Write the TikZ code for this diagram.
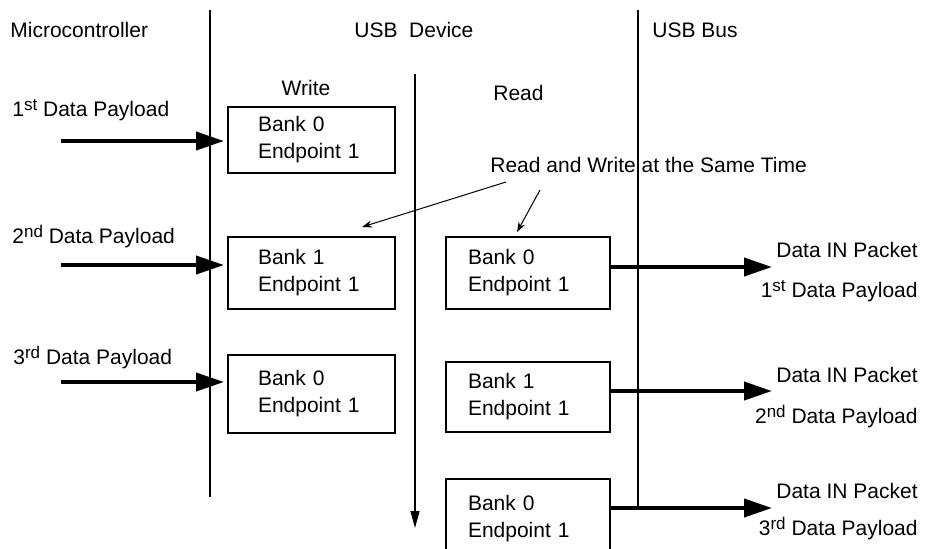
\documentclass[tikz,border=0pt]{standalone}
\usepackage{fontspec}
\setmainfont{Liberation Sans}
\usetikzlibrary{arrows.meta}

\newcommand{\ordsup}[1]{\raisebox{3pt}{\fontsize{8.5}{8.5}\selectfont #1}}

\begin{document}
\begin{tikzpicture}[x=0.5pt,y=-0.5pt,
    font=\fontsize{10.5}{13.5}\selectfont,
    lbl/.style={inner sep=0pt},
    bank/.style={draw,line width=1pt,align=left,inner ysep=0pt},
    wbank/.style={bank,inner xsep=15pt,text width=53.5pt},
    rbank/.style={bank,inner xsep=11pt,text width=60pt},
    bus/.style={line width=1.2pt},
    flow/.style={line width=2pt,-{Triangle[length=14pt,width=9pt]}},
    note/.style={line width=0.5pt,-{Stealth[length=5pt,width=3.5pt]}}]

    \useasboundingbox (0,0) rectangle (931,548);

    % column headings
    \node[lbl,anchor=base west] (mcu) at (10,37) {Microcontroller};
    \node[lbl,anchor=base west] (dev) at (354,37) {USB\ \ Device};
    \node[lbl,anchor=base west] (usbbus) at (652,37) {USB Bus};
    \node[lbl,anchor=base] (wr) at (306,95) {Write};
    \node[lbl,anchor=base west] (rd) at (493,100) {Read};

    % border lines and time arrow
    \coordinate (mcutop) at (210,10);
    \coordinate (mcubot) at (210,497);
    \coordinate (bustop) at (638,10);
    \coordinate (busbot) at (638,508);
    \coordinate (ttop) at (415,74);
    \coordinate (tbot) at (415,528);
    \draw[bus] (mcutop) -- (mcubot);
    \draw[bus] (bustop) -- (busbot);
    \draw[line width=0.6pt,-{Triangle[length=8.5pt,width=4.5pt]}] (ttop) -- (tbot);

    % write banks
    \node[wbank,minimum height=33pt] (wb1) at (311.5,140) {Bank 0\\Endpoint 1};
    \node[wbank,minimum height=36pt] (wb2) at (311.5,273) {Bank 1\\Endpoint 1};
    \node[wbank,minimum height=39pt] (wb3) at (311.5,394) {Bank 0\\Endpoint 1};

    % read banks
    \node[rbank,minimum height=36pt] (rb1) at (528,273) {Bank 0\\Endpoint 1};
    \node[rbank,minimum height=35pt] (rb2) at (528,397) {Bank 1\\Endpoint 1};
    \node[rbank,minimum height=40pt] (rb3) at (528,519) {Bank 0\\Endpoint 1};

    % payloads from the microcontroller
    \node[lbl,anchor=base west] (pl1) at (12,116) {1\ordsup{st} Data Payload};
    \node[lbl,anchor=base west] (pl2) at (12,243) {2\ordsup{nd} Data Payload};
    \node[lbl,anchor=base west] (pl3) at (13,364) {3\ordsup{rd} Data Payload};

    \coordinate (in1) at (61,141);
    \coordinate (in2) at (61,265);
    \coordinate (in3) at (61,382);
    \draw[flow,shorten >=1.5pt] (in1) -- (in1 -| wb1.west);
    \draw[flow,shorten >=1.5pt] (in2) -- (in2 -| wb2.west);
    \draw[flow,shorten >=1.5pt] (in3) -- (in3 -| wb3.west);

    % packets to the bus
    \coordinate (out1) at (772,267);
    \coordinate (out2) at (772,391);
    \coordinate (out3) at (772,508);
    \draw[flow] (rb1.east |- out1) -- (out1);
    \draw[flow] (rb2.east |- out2) -- (out2);
    \draw[flow] (rb3.east |- out3) -- (out3);

    \node[lbl,anchor=base east] (pk1) at (918,257) {Data IN Packet};
    \node[lbl,anchor=base east] (po1) at (918,297) {1\ordsup{st} Data Payload};
    \node[lbl,anchor=base east] (pk2) at (918,382) {Data IN Packet};
    \node[lbl,anchor=base east] (po2) at (918,423) {2\ordsup{nd} Data Payload};
    \node[lbl,anchor=base east] (pk3) at (918,498) {Data IN Packet};
    \node[lbl,anchor=base east] (po3) at (918,535) {3\ordsup{rd} Data Payload};

    % same time note
    \node[lbl,anchor=base west] (same) at (490,172) {Read and Write at the Same Time};
    \coordinate (from1) at (506,182);
    \coordinate (from2) at (540,190);
    \coordinate (tip1) at (362,227);
    \coordinate (tip2) at (517,232);
    \draw[note] (from1) -- (tip1);
    \draw[note] (from2) -- (tip2);
\end{tikzpicture}
\end{document}
